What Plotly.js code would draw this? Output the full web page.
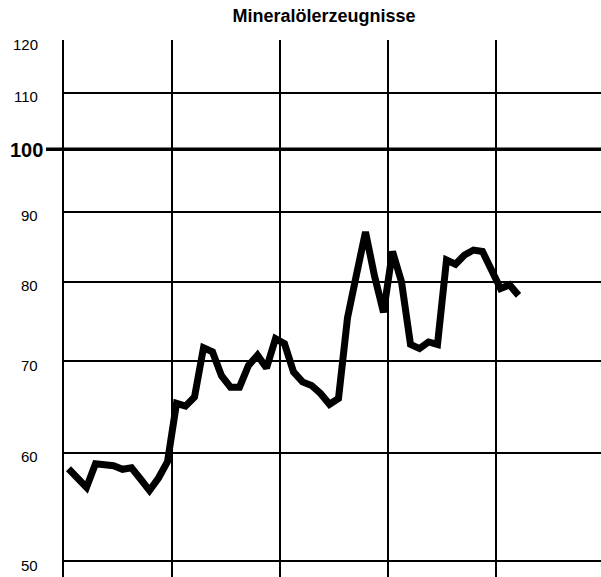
<!DOCTYPE html>
<html>
<head>
<meta charset="utf-8">
<script src="https://cdn.plot.ly/plotly-3.0.1.min.js"></script>
<style>
html, body { margin: 0; padding: 0; overflow: hidden; background: #fff; }
#chart { width: 601px; height: 577px; }
</style>
</head>
<body>
<div id="chart"></div>
<script>
// Monatswerte (Index, 100 = Basis), 4 Jahre + 3 Monate
const monate = [1,2,3,4,5,6,7,8,9,10,11,12,
                13,14,15,16,17,18,19,20,21,22,23,24,
                25,26,27,28,29,30,31,32,33,34,35,36,
                37,38,39,40,41,42,43,44,45,46,47,48,
                49,50,51];
const werte = [58.4, 57.6, 56.6, 58.9, 58.8, 58.7, 58.35, 58.5, 57.4, 56.3, 57.5, 59.1,
               65.2, 64.9, 65.9, 71.6, 71.1, 68.3, 67.0, 67.0, 69.5, 70.7, 69.2, 72.7,
               72.1, 68.75, 67.6, 67.2, 66.3, 65.1, 65.75, 75.3, 81.0, 87.0, 80.8, 76.0,
               84.2, 80.0, 72.0, 71.5, 72.3, 72.0, 83.0, 82.4, 83.7, 84.4, 84.2, 81.6,
               79.1, 79.6, 78.2];
const yTicks = [50, 60, 70, 80, 90, 100, 110, 120];
const yTickLabels = ['50', '60', '70', '80', '90', '100', '110', '120'];
const titel = 'Mineralölerzeugnisse';

// place each monthly value in the middle of its month
const xPos = monate.map(m => m - 0.5);

const trace = {
  x: xPos,
  y: werte,
  type: 'scatter',
  mode: 'lines',
  line: { color: '#000', width: 7 },
  hoverinfo: 'skip'
};

const fontFam = '"Liberation Sans", Arial, Helvetica, sans-serif';
const yRange = [1.6873, 2.0799];

const annotations = yTicks.map((v, i) => {
  const big = v === 100;
  return {
    xref: 'paper', yref: 'y',
    x: 0, y: Math.log10(v),
    xanchor: 'right', yanchor: 'middle',
    xshift: big ? -19 : -24,
    yshift: big ? -1 : -4,
    text: big ? '<b>' + yTickLabels[i] + '</b>' : yTickLabels[i],
    showarrow: false,
    font: { family: fontFam, size: big ? 20 : 15, color: '#000' }
  };
});

// the 100 line is heavier and runs out to the label as a dash
const y100 = (Math.log10(100) - yRange[0]) / (yRange[1] - yRange[0]);
const shapes = [{
  type: 'line', xref: 'paper', yref: 'paper',
  x0: -18 / 537, x1: 1, y0: y100, y1: y100,
  line: { color: '#000', width: 3.4 }
}];

const layout = {
  width: 601, height: 577,
  margin: { l: 64, r: 0, t: 40, b: 0, pad: 0 },
  paper_bgcolor: '#fff', plot_bgcolor: '#fff',
  showlegend: false,
  title: {
    text: '<b>' + titel + '</b>',
    xref: 'container', yref: 'container',
    x: 324 / 601, y: 1 - 16 / 577,
    xanchor: 'center', yanchor: 'middle',
    font: { family: fontFam, size: 18, color: '#000' }
  },
  xaxis: {
    range: [0, 537 / 9],
    tick0: 0, dtick: 12,
    showgrid: true, gridcolor: '#000', gridwidth: 2,
    showticklabels: false, ticks: '',
    zeroline: false, showline: false
  },
  yaxis: {
    type: 'log',
    range: yRange,
    tickvals: yTicks, ticktext: yTickLabels,
    showticklabels: false, ticks: '',
    showgrid: true, gridcolor: '#000', gridwidth: 2,
    zeroline: false,
    showline: true, linecolor: '#000', linewidth: 2.2
  },
  annotations: annotations,
  shapes: shapes
};

Plotly.newPlot('chart', [trace], layout, { staticPlot: true, displayModeBar: false });
</script>
</body>
</html>
